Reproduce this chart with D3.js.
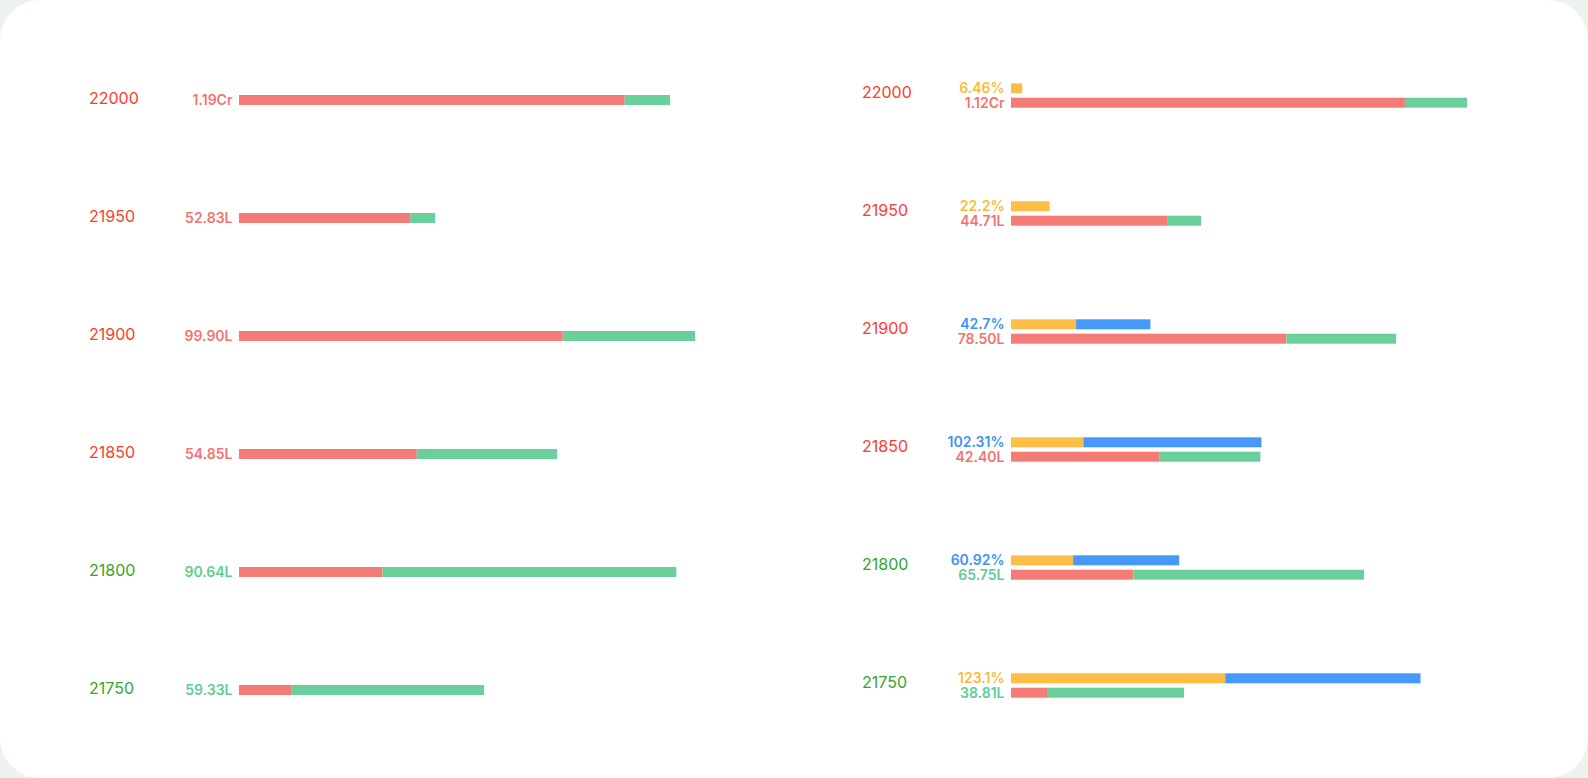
<!DOCTYPE html>
<html>
<head>
<meta charset="utf-8">
<script src="https://cdn.jsdelivr.net/npm/d3@7"></script>
<style>
  html, body { margin: 0; padding: 0; background: #eef2ef; }
  svg { display: block; }
  text { font-family: Inter, "Open Sans", sans-serif; }
</style>
</head>
<body>
<svg id="chart" width="1588" height="778"></svg>
<script>
// ---- data ----
const strikes = [22000, 21950, 21900, 21850, 21800, 21750];
const strikeSide = ["red", "red", "red", "red", "green", "green"];

// left panel (OI in lakhs)
const leftRed   = [119.0, 52.83, 99.90, 54.85, 44.3, 16.3];
const leftGreen = [14.0, 7.7, 40.8, 43.3, 90.64, 59.33];

// right panel (OI change in lakhs)
const rightRed   = [112.3, 44.71, 78.50, 42.40, 34.9, 10.5];
const rightGreen = [17.7, 9.5, 31.3, 28.7, 65.75, 38.81];

// right panel percentages
const pctYellow = [6.46, 22.2, 37.4, 41.6, 35.7, 123.1];
const pctBlue   = [0, 0, 42.7, 102.31, 60.92, 112.2];
const pctLabels = ["6.46%", "22.2%", "42.7%", "102.31%", "60.92%", "123.1%"];
const pctDomainMax = 262;

// ---- styling ----
const C = {
  catRed: "#ff3b30", catGreen: "#35a52d",
  red: "#f57b76", green: "#6acf9b", yellow: "#fdbe48", blue: "#4499fb",
  lblRed: "#f4736f", lblGreen: "#62cc95", lblYellow: "#fdb93c", lblBlue: "#3d93f7"
};

function fmtOI(v) {
  return v >= 100 ? (v / 100).toFixed(2) + "Cr" : v.toFixed(2) + "L";
}

const svg = d3.select("#chart");
svg.append("rect").attr("x", 0).attr("y", 0).attr("width", 1588).attr("height", 778)
  .attr("rx", 40).attr("ry", 40).attr("fill", "#ffffff");

const barH = 10;
const barW = 456;

// ---------- LEFT PANEL ----------
const yL = d3.scaleBand().domain(strikes).range([41, 749]).paddingInner(0);
const leftTotals = strikes.map((s, i) => leftRed[i] + leftGreen[i]);
const xL = d3.scaleLinear().domain([0, d3.max(leftTotals)]).range([239, 239 + barW]);

const gL = svg.append("g");
strikes.forEach((s, i) => {
  const cy = yL(s) + yL.bandwidth() / 2;
  gL.append("text").attr("x", 89).attr("y", cy + 3.5)
    .attr("font-size", 16).attr("fill", strikeSide[i] === "red" ? C.catRed : C.catGreen)
    .text(s);
  gL.append("rect").attr("x", xL(0)).attr("y", cy - barH / 2)
    .attr("width", xL(leftRed[i]) - xL(0)).attr("height", barH).attr("fill", C.red);
  gL.append("rect").attr("x", xL(leftRed[i])).attr("y", cy - barH / 2)
    .attr("width", xL(leftRed[i] + leftGreen[i]) - xL(leftRed[i])).attr("height", barH).attr("fill", C.green);
  const redWins = leftRed[i] >= leftGreen[i];
  gL.append("text").attr("x", xL(0) - 6.5).attr("y", cy + 5)
    .attr("text-anchor", "end").attr("font-size", 14).attr("font-weight", 600)
    .attr("fill", redWins ? C.lblRed : C.lblGreen)
    .text(fmtOI(redWins ? leftRed[i] : leftGreen[i]));
});

// ---------- RIGHT PANEL ----------
const yR = d3.scaleBand().domain(strikes).range([36.5, 744.5]).paddingInner(0);
const rightTotals = strikes.map((s, i) => rightRed[i] + rightGreen[i]);
const xR = d3.scaleLinear().domain([0, d3.max(rightTotals)]).range([1011, 1011 + barW]);
const xP = d3.scaleLinear().domain([0, pctDomainMax]).range([1011, 1011 + barW]);

const gR = svg.append("g");
strikes.forEach((s, i) => {
  const cy = yR(s) + yR.bandwidth() / 2;
  const topY = cy - 12.2;     // percentage bar top
  const botY = cy + 2.2;      // OI bar top
  gR.append("text").attr("x", 862).attr("y", cy + 2.8)
    .attr("font-size", 16).attr("fill", strikeSide[i] === "red" ? C.catRed : C.catGreen)
    .text(s);
  // percentage bars
  gR.append("rect").attr("x", xP(0)).attr("y", topY)
    .attr("width", xP(pctYellow[i]) - xP(0)).attr("height", barH).attr("fill", C.yellow);
  if (pctBlue[i] > 0) {
    gR.append("rect").attr("x", xP(pctYellow[i])).attr("y", topY)
      .attr("width", xP(pctYellow[i] + pctBlue[i]) - xP(pctYellow[i])).attr("height", barH).attr("fill", C.blue);
  }
  const yWins = pctYellow[i] >= pctBlue[i];
  gR.append("text").attr("x", xP(0) - 6.5).attr("y", topY + 10)
    .attr("text-anchor", "end").attr("font-size", 14).attr("font-weight", 600)
    .attr("fill", yWins ? C.lblYellow : C.lblBlue)
    .text(pctLabels[i]);
  // OI bars
  gR.append("rect").attr("x", xR(0)).attr("y", botY)
    .attr("width", xR(rightRed[i]) - xR(0)).attr("height", barH).attr("fill", C.red);
  gR.append("rect").attr("x", xR(rightRed[i])).attr("y", botY)
    .attr("width", xR(rightRed[i] + rightGreen[i]) - xR(rightRed[i])).attr("height", barH).attr("fill", C.green);
  const redWins = rightRed[i] >= rightGreen[i];
  gR.append("text").attr("x", xR(0) - 6.5).attr("y", botY + 10)
    .attr("text-anchor", "end").attr("font-size", 14).attr("font-weight", 600)
    .attr("fill", redWins ? C.lblRed : C.lblGreen)
    .text(fmtOI(redWins ? rightRed[i] : rightGreen[i]));
});
</script>
</body>
</html>
